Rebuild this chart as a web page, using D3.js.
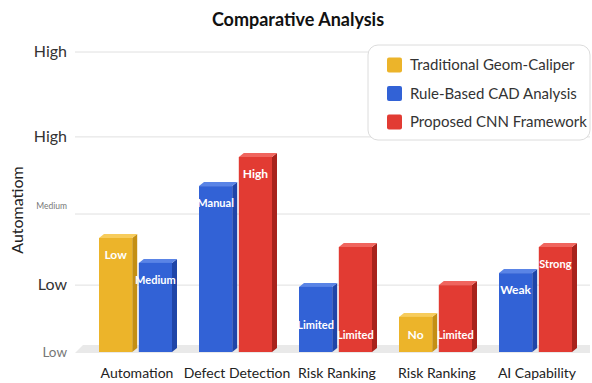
<!DOCTYPE html>
<meta charset="utf-8">
<style>
body { margin: 0; background: #fff; }
text { font-family: Lato, "Open Sans", sans-serif; }
</style>
<svg width="592" height="383"></svg>
<script src="https://cdn.jsdelivr.net/npm/d3@7"></script>
<script>

// data
var categories = ["Automation", "Defect Detection", "Risk Ranking", "Risk Ranking", "AI Capability"];
var seriesNames = ["Traditional Geom-Caliper", "Rule-Based CAD Analysis", "Proposed CNN Framework"];
var traditional = [38, null, null, 11.7, null];
var ruleBased   = [29.7, 55.3, 21.7, null, 26.3];
var cnn         = [null, 65, 35, 22.3, 35];
var traditionalLabels = ["Low", null, null, "No", null];
var ruleBasedLabels   = ["Medium", "Manual", "Limited", null, "Weak"];
var cnnLabels         = [null, "High", "Limited", "Limited", "Strong"];
var tickValues = [0, 22.3, 46, 71.7, 100];
var tickLabels = ["Low", "Low", "Medium", "High", "High"];

var colors = ["#ecb42a", "#3262d6", "#e23b33"];
var sides  = ["#c48f14", "#1f45a8", "#a8221c"];
var tops   = ["#f7cc5c", "#5a84e6", "#f0655e"];

var svg = d3.select("svg");
var left = 75, right = 590, base = 352, topY = 52;

var y = d3.scaleLinear().domain([0, 100]).range([base, topY]);
var x = d3.scaleBand().domain(d3.range(categories.length)).range([88, 588]);
var slot = d3.scaleBand().domain([0, 1]).range([-39, 39]).paddingInner(0.04);

var values = [traditional, ruleBased, cnn];
var labels = [traditionalLabels, ruleBasedLabels, cnnLabels];

// title
svg.append("text").attr("x", 298).attr("y", 26)
  .attr("text-anchor", "middle").attr("font-size", 18).attr("font-weight", "bold")
  .attr("fill", "#111").text("Comparative Analysis");

// gridlines
svg.append("g").selectAll("line").data(tickValues.slice(1)).enter().append("line")
  .attr("x1", left).attr("x2", right)
  .attr("y1", function(d) { return y(d); }).attr("y2", function(d) { return y(d); })
  .attr("stroke", "#e0e0e0").attr("stroke-width", 1);

// floor
svg.append("path")
  .attr("d", "M" + left + "," + (base + 1) + "L" + (left + 8) + "," + (base - 7) +
        "L" + right + "," + (base - 7) + "L" + right + "," + (base + 1) + "Z")
  .attr("fill", "#e9e9e9");

// y tick labels
var tickG = svg.append("g");
tickValues.forEach(function(v, i) {
  var small = tickLabels[i] == "Medium";
  var bottom = i == 0;
  tickG.append("text")
    .attr("x", 67).attr("y", small ? y(v) - 5 : y(v) + 5)
    .attr("text-anchor", "end")
    .attr("font-size", small ? 8.5 : (bottom ? 13.5 : 16))
    .attr("fill", small || bottom ? "#777" : "#333")
    .text(tickLabels[i]);
});

svg.append("text")
  .attr("transform", "translate(23,210) rotate(-90)")
  .attr("text-anchor", "middle").attr("font-size", 16).attr("fill", "#222")
  .text("Automatiom");

// bars
var dx = 5, dy = 4;
var bars = svg.append("g");
categories.forEach(function(c, ci) {
  var present = [];
  values.forEach(function(s, si) { if (s[ci] != null) present.push(si); });
  present.forEach(function(si, k) {
    var v = values[si][ci];
    var x0 = x(ci) + x.bandwidth() / 2 + slot(k);
    var w = slot.bandwidth() - dx;
    var yt = y(v);
    var g = bars.append("g");
    // side
    g.append("path")
      .attr("d", "M" + (x0 + w) + "," + yt + "L" + (x0 + w + dx) + "," + (yt - dy) +
            "L" + (x0 + w + dx) + "," + (base - dy) + "L" + (x0 + w) + "," + base + "Z")
      .attr("fill", sides[si]);
    // top
    g.append("path")
      .attr("d", "M" + x0 + "," + yt + "L" + (x0 + dx) + "," + (yt - dy) +
            "L" + (x0 + w + dx) + "," + (yt - dy) + "L" + (x0 + w) + "," + yt + "Z")
      .attr("fill", tops[si]);
    // front
    g.append("rect")
      .attr("x", x0).attr("y", yt).attr("width", w).attr("height", base - yt)
      .attr("fill", colors[si]);
    var lab = labels[si][ci];
    if (lab) {
      var ly = yt + 17;
      if (c == "Risk Ranking") ly = (si == 1) ? base - 27 : base - 17;
      g.append("text")
        .attr("x", x0 + w / 2).attr("y", ly).attr("dy", "0.35em")
        .attr("text-anchor", "middle").attr("font-size", lab.length > 5 ? 11 : 12)
        .attr("font-weight", "bold").attr("fill", "#fff")
        .text(lab);
    }
  });
});

// category labels
svg.append("g").selectAll("text").data(categories).enter().append("text")
  .attr("x", function(d, i) { return x(i) + x.bandwidth() / 2 - 1; })
  .attr("y", 378).attr("text-anchor", "middle")
  .attr("font-size", 14).attr("fill", "#222")
  .text(function(d) { return d; });

// legend
var lg = svg.append("g");
lg.append("rect").attr("x", 368).attr("y", 45).attr("width", 222).attr("height", 95)
  .attr("rx", 10).attr("fill", "#fff").attr("stroke", "#dcdcdc");
seriesNames.forEach(function(n, i) {
  var cy = 65 + i * 28.5;
  lg.append("rect").attr("x", 387).attr("y", cy - 7.5).attr("width", 15).attr("height", 15)
    .attr("rx", 2).attr("fill", colors[i]);
  lg.append("text").attr("x", 410).attr("y", cy).attr("dy", "0.35em")
    .attr("font-size", 15).attr("fill", "#333").text(n);
});

</script>
